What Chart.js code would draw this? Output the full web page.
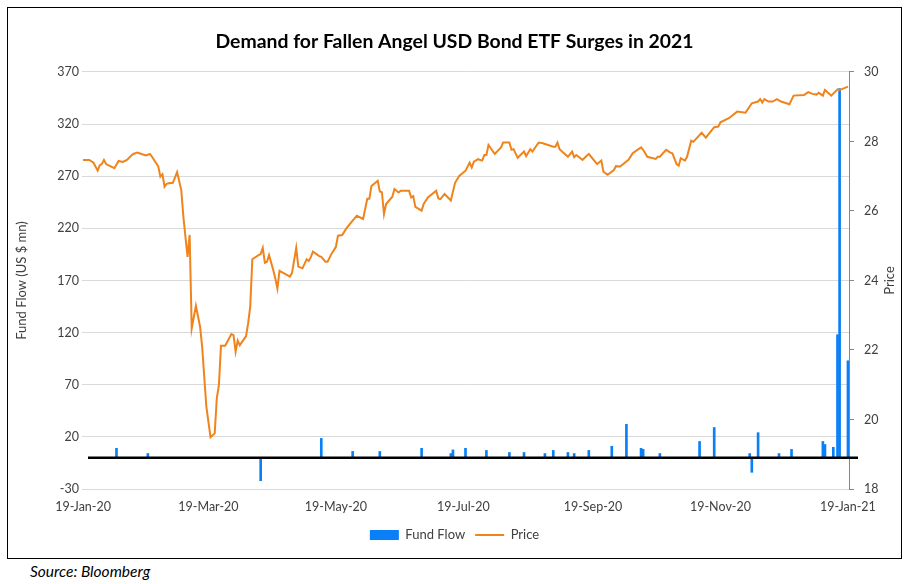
<!DOCTYPE html>
<html>
<head>
<meta charset="utf-8">
<title>Demand for Fallen Angel USD Bond ETF Surges in 2021</title>
<script src="https://cdn.jsdelivr.net/npm/chart.js@4.4.1/dist/chart.umd.min.js"></script>
<style>
    html, body { margin: 0; padding: 0; background: #fff; }
    body { width: 914px; height: 584px; position: relative; overflow: hidden; font-family: Lato, sans-serif; }
    #frame { position: absolute; left: 7px; top: 7px; width: 895px; height: 552px; border: 1px solid #000; box-sizing: border-box; }
    #wrap { position: absolute; left: 8px; top: 8px; width: 893px; height: 549px; }
    #source { position: absolute; left: 30px; top: 562px; font-style: italic; font-size: 15.5px; color: #000; }
</style>
</head>
<body>
<div id="frame"></div>
<div id="wrap"><canvas id="flowChart"></canvas></div>
<div id="source">Source: Bloomberg</div>
<script>
// days counted from 19-Jan-20
const tickDays = [0, 60, 121, 182, 244, 305, 366];
const tickLabels = ['19-Jan-20', '19-Mar-20', '19-May-20', '19-Jul-20', '19-Sep-20', '19-Nov-20', '19-Jan-21'];

// Fund flow (US $ mn)
const flowDays = [16, 31, 85, 114, 129, 142, 162, 176, 177, 183, 193, 204, 211, 221, 225, 232, 235, 242, 253, 260,
    267, 268, 276, 295, 302, 319, 320, 323, 333, 339, 354, 355, 359, 361, 362, 366];
const flowValues = [9, 4, -22, 18.5, 6, 6, 9, 4, 7.5, 9, 7, 5, 5, 4, 7, 5, 4, 7, 11, 32,
    9, 8, 4, 15.6, 29, 4, -14, 24, 4, 8, 15.6, 12.7, 10, 118, 354, 93];

// ETF price
const priceDays = [0, 3, 5, 7, 8, 9, 10, 11, 15, 17, 19, 21, 23, 24, 26, 28, 30, 32, 33, 36,
    37, 38, 39, 40, 41, 43, 45, 47, 48, 50, 51, 52, 54, 56, 57, 59, 61, 63, 64, 65,
    66, 68, 71, 72, 73, 74, 75, 78, 79, 80, 81, 84, 85, 86, 87, 88, 89, 91, 92, 93,
    94, 99, 100, 102, 103, 105, 107, 108, 109, 110, 113, 114, 116, 117, 119, 121, 122, 124, 126, 129,
    131, 134, 136, 137, 138, 141, 142, 143, 144, 145, 148, 149, 151, 152, 156, 157, 158, 159, 162, 163,
    165, 169, 170, 171, 173, 176, 178, 180, 183, 185, 186, 187, 189, 191, 192, 193, 194, 197, 200, 201,
    204, 205, 206, 208, 211, 212, 214, 215, 218, 220, 225, 226, 227, 228, 232, 234, 235, 236, 239, 241,
    242, 246, 248, 249, 251, 254, 255, 257, 261, 263, 267, 268, 270, 274, 275, 276, 279, 281, 282, 284,
    285, 286, 288, 289, 291, 292, 296, 298, 302, 304, 305, 309, 313, 317, 320, 323, 324, 325, 326, 328,
    330, 332, 334, 338, 340, 345, 347, 349, 351, 352, 354, 355, 358, 361, 362, 366];
const priceValues = [27.47, 27.47, 27.39, 27.16, 27.32, 27.35, 27.47, 27.35, 27.23, 27.44, 27.41, 27.47, 27.59, 27.64, 27.68, 27.64, 27.60, 27.64, 27.56, 27.28,
    26.99, 27.06, 26.70, 26.78, 26.80, 26.81, 27.12, 26.60, 25.84, 24.68, 25.31, 22.62, 23.27, 22.67, 22.09, 20.37, 19.49, 19.60, 20.61, 20.99,
    22.12, 22.12, 22.46, 22.43, 21.95, 22.27, 22.14, 22.40, 22.77, 23.25, 24.61, 24.73, 24.76, 24.94, 24.51, 24.54, 24.73, 24.30, 24.06, 23.77,
    24.28, 24.11, 24.22, 24.94, 24.40, 24.35, 24.61, 24.56, 24.67, 24.83, 24.70, 24.68, 24.54, 24.54, 24.78, 24.97, 25.29, 25.31, 25.50, 25.72,
    25.86, 25.77, 26.35, 26.35, 26.72, 26.87, 26.56, 26.54, 25.91, 26.20, 26.41, 26.63, 26.53, 26.58, 26.58, 26.39, 26.43, 26.12, 26.01, 26.20,
    26.39, 26.58, 26.36, 26.34, 26.49, 26.30, 26.81, 27.01, 27.16, 27.39, 27.25, 27.42, 27.49, 27.45, 27.61, 27.61, 27.90, 27.64, 27.83, 27.97,
    27.97, 27.76, 27.78, 27.53, 27.71, 27.58, 27.78, 27.71, 27.97, 27.95, 27.85, 27.85, 27.97, 27.78, 27.56, 27.71, 27.55, 27.61, 27.47, 27.59,
    27.64, 27.35, 27.45, 27.13, 27.04, 27.18, 27.29, 27.28, 27.47, 27.66, 27.83, 27.76, 27.56, 27.50, 27.56, 27.56, 27.76, 27.68, 27.66, 27.35,
    27.30, 27.52, 27.45, 27.56, 28.02, 27.99, 28.25, 28.11, 28.41, 28.43, 28.55, 28.67, 28.86, 28.83, 29.10, 29.15, 29.22, 29.12, 29.22, 29.15,
    29.15, 29.22, 29.15, 29.07, 29.32, 29.34, 29.42, 29.37, 29.35, 29.40, 29.32, 29.48, 29.32, 29.50, 29.48, 29.58];

const blue = '#0a80f8';
const orange = '#f0841c';
const textColor = '#404040';
const fontFamily = 'Lato, sans-serif';

const zeroLineAndPriceTitle = {
    id: 'zeroLineAndPriceTitle',
    afterDatasetsDraw(chart) {
        const {ctx, chartArea, scales} = chart;
        const y0 = scales.y.getPixelForValue(0);
        ctx.save();
        ctx.strokeStyle = '#000';
        ctx.lineWidth = 2.5;
        ctx.beginPath();
        ctx.moveTo(chartArea.left + 6, y0);
        ctx.lineTo(chartArea.right + 9, y0);
        ctx.stroke();
        ctx.restore();
    },
    afterDraw(chart) {
        // secondary axis title reads bottom-to-top like the primary one
        const {ctx, chartArea} = chart;
        ctx.save();
        ctx.translate(882, (chartArea.top + chartArea.bottom) / 2);
        ctx.rotate(-Math.PI / 2);
        ctx.font = '13px ' + fontFamily;
        ctx.fillStyle = textColor;
        ctx.textAlign = 'center';
        ctx.textBaseline = 'middle';
        ctx.fillText('Price', 0, 0);
        ctx.restore();
    }
};

const ctx = document.getElementById('flowChart').getContext('2d');
new Chart(ctx, {
    type: 'bar',
    data: {
        datasets: [
            {
                type: 'bar',
                label: 'Fund Flow',
                data: flowDays.map((d, i) => ({x: d, y: flowValues[i]})),
                backgroundColor: blue,
                borderWidth: 0,
                barThickness: 2,
                yAxisID: 'y',
                order: 2
            },
            {
                type: 'line',
                label: 'Price',
                data: priceDays.map((d, i) => ({x: d, y: priceValues[i]})),
                borderColor: orange,
                backgroundColor: orange,
                borderWidth: 2,
                pointRadius: 0,
                tension: 0,
                yAxisID: 'y1',
                order: 1
            }
        ]
    },
    options: {
        responsive: true,
        maintainAspectRatio: false,
        animation: false,
        layout: {padding: {left: 0, right: 0, top: 0, bottom: 5.5}},
        plugins: {
            title: {
                display: true,
                text: 'Demand for Fallen Angel USD Bond ETF Surges in 2021',
                color: '#000',
                font: {family: fontFamily, size: 19.4, weight: 'bold'},
                padding: {top: 22, bottom: 18.7}
            },
            legend: {
                position: 'bottom',
                labels: {
                    usePointStyle: true,
                    pointStyleWidth: 29,
                    boxHeight: 10,
                    padding: 10,
                    color: textColor,
                    font: {family: fontFamily, size: 13},
                    sort: (a, b) => a.datasetIndex - b.datasetIndex,
                    generateLabels(chart) {
                        const items = Chart.defaults.plugins.legend.labels.generateLabels(chart);
                        items.forEach(item => {
                            item.pointStyle = item.datasetIndex === 0 ? 'rect' : 'line';
                        });
                        return items;
                    }
                }
            },
            tooltip: {enabled: false}
        },
        scales: {
            x: {
                type: 'linear',
                min: -0.5,
                max: 366.5,
                offset: false,
                grid: {display: false, drawTicks: false},
                border: {display: false},
                afterBuildTicks: scale => {
                    scale.ticks = tickDays.map(v => ({value: v}));
                },
                afterFit: scale => { scale.height = 29.5; },
                ticks: {
                    autoSkip: false,
                    maxRotation: 0,
                    padding: 10.5,
                    color: textColor,
                    font: {family: fontFamily, size: 12.5},
                    callback: value => tickLabels[tickDays.indexOf(value)]
                }
            },
            y: {
                position: 'left',
                min: -30,
                max: 370,
                grid: {color: '#d9d9d9', lineWidth: 1, drawTicks: false},
                border: {display: false},
                afterFit: scale => { scale.width = 74; },
                ticks: {
                    stepSize: 50,
                    padding: 3,
                    color: textColor,
                    font: {family: fontFamily, size: 12.5}
                },
                title: {
                    display: true,
                    text: 'Fund Flow (US $ mn)',
                    color: textColor,
                    font: {family: fontFamily, size: 13},
                    padding: {top: 6, bottom: 0}
                }
            },
            y1: {
                position: 'right',
                min: 18,
                max: 30,
                grid: {drawOnChartArea: false, drawTicks: true, tickLength: 5, color: '#868686'},
                border: {display: true, color: '#868686'},
                afterFit: scale => { scale.width = 52; },
                ticks: {
                    stepSize: 2,
                    padding: 10,
                    color: textColor,
                    font: {family: fontFamily, size: 12.5}
                }
            }
        }
    },
    plugins: [zeroLineAndPriceTitle]
});
</script>
</body>
</html>
